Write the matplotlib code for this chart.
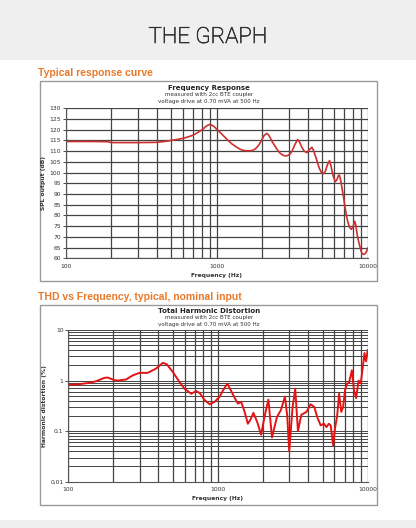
import matplotlib
matplotlib.use("Agg")

import matplotlib.pyplot as plt
import matplotlib.patheffects as pe
from matplotlib.patches import Rectangle
from matplotlib.ticker import FixedLocator, NullFormatter, LogLocator

W, H = 416, 528

# response curve data
freq1 = [100, 150, 190, 200, 300, 400, 450, 500, 550, 600,
         650, 700, 750, 800, 850, 890, 920, 960, 1000, 1080,
         1165, 1260, 1358, 1450, 1550, 1700, 1800, 1890, 1980, 2060,
         2148, 2220, 2300, 2378, 2500, 2630, 2780, 2915, 3050, 3145,
         3280, 3430, 3540, 3665, 3800, 3957, 4100, 4270, 4380, 4560,
         4780, 4970, 5100, 5230, 5400, 5590, 5720, 5880, 6090, 6250,
         6400, 6500, 6620, 6730, 6900, 7070, 7250, 7430, 7620, 7800,
         8000, 8200, 8350, 8500, 8610, 8800, 9000, 9170, 9400, 9650,
         9850, 10000]
spl = [114.5, 114.5, 114.4, 114.0, 114.0, 114.1, 114.5, 115.0, 115.5, 116.0,
       116.7, 117.5, 118.7, 120.0, 121.6, 122.4, 122.3, 121.5, 120.3, 118.0,
       115.6, 113.4, 111.8, 110.7, 110.2, 110.2, 111.0, 112.6, 115.0, 117.3,
       118.3, 117.3, 115.2, 113.4, 111.0, 109.0, 107.9, 107.8, 108.6, 109.8,
       112.8, 115.4, 114.2, 111.8, 110.0, 109.3, 110.6, 111.8, 110.3, 106.7,
       102.0, 99.7, 99.5, 100.5, 103.5, 105.6, 103.0, 98.9, 95.8, 96.6,
       98.7, 98.8, 96.5, 93.5, 89.0, 84.0, 79.5, 76.3, 74.2, 73.5,
       74.8, 77.3, 75.5, 71.5, 69.3, 66.5, 63.8, 62.3, 61.8, 62.2,
       63.5, 64.7]

# THD data
freq2 = [100, 118, 138, 153, 174, 183, 203, 214, 243, 270,
         299, 339, 386, 428, 455, 499, 553, 597, 662, 716,
         753, 814, 879, 950, 1026, 1080, 1153, 1225, 1290, 1358,
         1428, 1500, 1583, 1650, 1724, 1830, 1940, 2050, 2170, 2295,
         2475, 2630, 2800, 2900, 2990, 3150, 3280, 3420, 3600, 3900,
         4150, 4400, 4600, 4850, 5100, 5300, 5500, 5660, 5880, 6050,
         6250, 6440, 6660, 6850, 7060, 7300, 7500, 7840, 8100, 8370,
         8690, 8990, 9260, 9520, 9740, 10000]
thd = [0.82, 0.85, 0.90, 0.97, 1.13, 1.15, 1.02, 1.0, 1.05, 1.27,
       1.42, 1.42, 1.73, 2.24, 2.1, 1.48, 0.94, 0.69, 0.55, 0.62,
       0.57, 0.41, 0.34, 0.38, 0.48, 0.64, 0.87, 0.62, 0.46, 0.35,
       0.38, 0.25, 0.14, 0.17, 0.23, 0.15, 0.085, 0.2, 0.42, 0.075,
       0.19, 0.26, 0.48, 0.2, 0.04, 0.3, 0.69, 0.1, 0.21, 0.24,
       0.34, 0.3, 0.19, 0.13, 0.14, 0.12, 0.14, 0.13, 0.052, 0.115,
       0.2, 0.55, 0.24, 0.3, 0.65, 0.88, 0.9, 1.6, 0.65, 0.45,
       1.0, 0.88, 1.8, 3.5, 2.4, 4.0]

x_ticks = [100, 1000, 10000]
x_labels = ["100", "1000", "10000"]
x_minor = [200, 300, 400, 500, 600, 700, 800, 900,
           2000, 3000, 4000, 5000, 6000, 7000, 8000, 9000]
spl_ticks = list(range(60, 131, 5))
thd_ticks = [0.01, 0.1, 1, 10]
thd_labels = ["0,01", "0,1", "1", "10"]

ORANGE = "#e8792a"
GRID = "#444444"


def fx(x):
    return x / W


def fy(y):
    return 1 - y / H


def add_axes(x0, y0, x1, y1):
    ax = fig.add_axes([fx(x0), fy(y1), (x1 - x0) / W, (y1 - y0) / H])
    ax.set_zorder(3)
    return ax


fig = plt.figure(figsize=(W / 100, H / 100), dpi=100)
fig.patch.set_facecolor("white")

# header and footer bands
fig.patches.append(Rectangle((0, fy(60)), 1, 60 / H, transform=fig.transFigure,
                             facecolor="#efefef", edgecolor="none", zorder=-2))
fig.patches.append(Rectangle((0, 0), 1, 8 / H, transform=fig.transFigure,
                             facecolor="#efefef", edgecolor="none", zorder=-2))
fig.text(0.5, fy(37.5), "THE GRAPH", ha="center", va="center", fontsize=16,
         family=["Roboto", "DejaVu Sans"], fontweight="light", color="#2e2e2e",
         path_effects=[pe.withStroke(linewidth=0.45, foreground="#2e2e2e")])

# boxes around charts
for top, bot in [(80.5, 280.5), (305, 505)]:
    fig.patches.append(Rectangle((fx(39.5), fy(bot)), (377 - 39.5) / W, (bot - top) / H,
                                 transform=fig.transFigure, facecolor="white",
                                 edgecolor="#9a9a9a", linewidth=1, zorder=-1))

fig.text(fx(38), fy(73), "Typical response curve", ha="left", va="center",
         fontsize=7.5, fontweight="bold", family="Liberation Sans", color=ORANGE)
fig.text(fx(38), fy(296.5), "THD vs Frequency, typical, nominal input", ha="left",
         va="center", fontsize=7.5, fontweight="bold", family="Liberation Sans", color=ORANGE)


def style_x(ax):
    ax.set_xscale("log")
    ax.set_xlim(100, 10000)
    ax.xaxis.set_major_locator(FixedLocator(x_ticks))
    ax.xaxis.set_minor_locator(FixedLocator(x_minor))
    ax.xaxis.set_minor_formatter(NullFormatter())
    ax.set_xticklabels(x_labels)
    ax.grid(True, which="both", axis="x", color=GRID, linewidth=0.9)
    ax.tick_params(axis="x", which="both", length=0, labelsize=4.3, pad=4, colors="#333333")
    ax.tick_params(axis="y", which="major", length=2, labelsize=4.3, pad=1.5,
                   colors="#333333", width=0.6)
    for s in ["top", "right"]:
        ax.spines[s].set_visible(False)
    for s in ["left", "bottom"]:
        ax.spines[s].set_color("#555555")
        ax.spines[s].set_linewidth(0.8)
    ax.set_axisbelow(True)
    ax.patch.set_alpha(0)


# frequency response
ax1 = add_axes(65.7, 108.3, 367.7, 258.3)
ax1.plot(freq1, spl, color="#cc3030", linewidth=1.2)
style_x(ax1)
ax1.set_ylim(60, 130)
ax1.set_yticks(spl_ticks)
ax1.grid(True, which="major", axis="y", color=GRID, linewidth=0.9)
ax1.set_xlabel("Frequency (Hz)", fontsize=4.3, fontweight="bold", labelpad=3, color="#333333")
ax1.set_ylabel("SPL output (dB)", fontsize=4.3, fontweight="bold", labelpad=2, color="#333333")
fig.text(fx(209), fy(88), "Frequency Response", ha="center", va="center",
         fontsize=5, fontweight="bold", color="#222222")
fig.text(fx(209), fy(94.7), "measured with 2cc BTE coupler", ha="center", va="center",
         fontsize=4.1, color="#333333")
fig.text(fx(209), fy(101.5), "voltage drive at 0.70 mVA at 500 Hz", ha="center", va="center",
         fontsize=4.1, color="#333333")

# total harmonic distortion
ax2 = add_axes(68.3, 330, 367.7, 481.7)
ax2.plot(freq2, thd, color="#e41414", linewidth=1.4)
style_x(ax2)
ax2.set_yscale("log")
ax2.set_ylim(0.01, 10)
ax2.yaxis.set_major_locator(FixedLocator(thd_ticks))
ax2.set_yticklabels(thd_labels)
ax2.yaxis.set_minor_locator(LogLocator(base=10, subs=range(2, 10)))
ax2.yaxis.set_minor_formatter(NullFormatter())
ax2.tick_params(axis="y", which="minor", length=0)
ax2.grid(True, which="both", axis="y", color=GRID, linewidth=0.7)
ax2.set_xlabel("Frequency (Hz)", fontsize=4.3, fontweight="bold", labelpad=3, color="#333333")
ax2.set_ylabel("Harmonic distortion (%)", fontsize=4.3, fontweight="bold", labelpad=2,
               color="#333333")
fig.text(fx(209), fy(310.7), "Total Harmonic Distortion", ha="center", va="center",
         fontsize=5, fontweight="bold", color="#222222")
fig.text(fx(209), fy(317.7), "measured with 2cc BTE coupler", ha="center", va="center",
         fontsize=4.1, color="#333333")
fig.text(fx(209), fy(324.3), "voltage drive at 0.70 mVA at 500 Hz", ha="center", va="center",
         fontsize=4.1, color="#333333")

fig.savefig("out.png", dpi=100)
